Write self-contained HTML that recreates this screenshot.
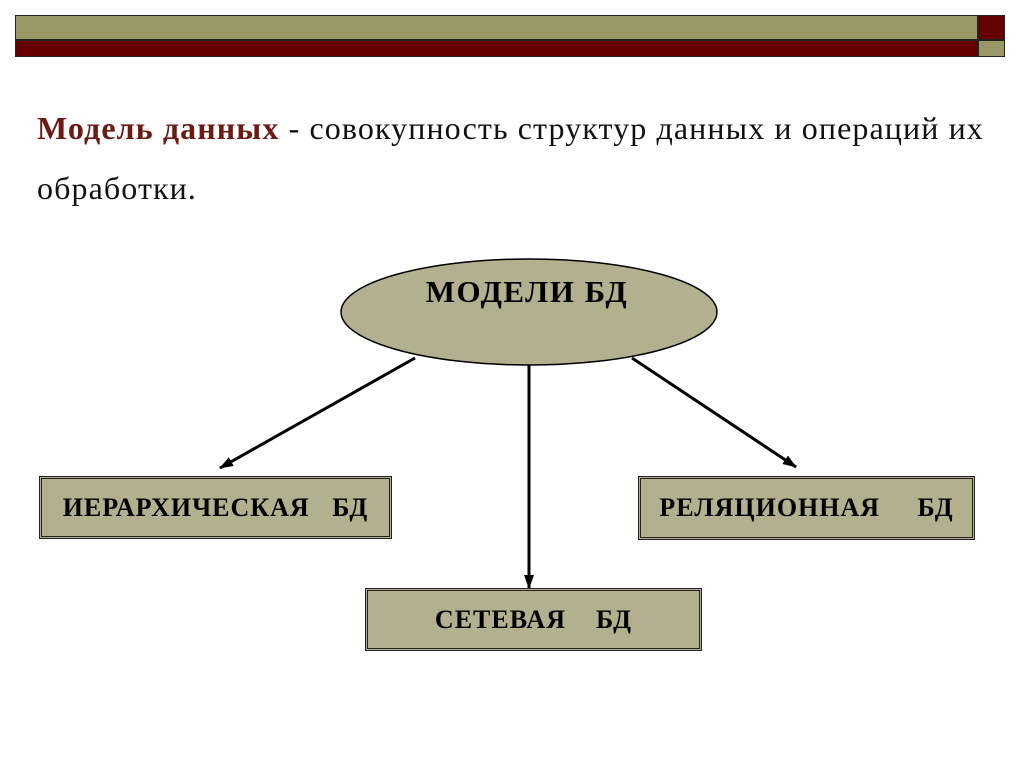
<html><head><style>
body{margin:0;width:1024px;height:767px;background:#fff;position:relative;overflow:hidden;font-family:"Liberation Serif",serif}
.a{position:absolute}
.box{position:absolute;background:#b2b08e;border:3px double #222;box-sizing:border-box;font-weight:bold;font-size:26px;letter-spacing:1px;display:flex;align-items:center;justify-content:center;white-space:pre}
</style></head><body>
<div class="a" style="left:15px;top:15px;width:963px;height:25px;background:#9a9866;border:1px solid #222;box-sizing:border-box"></div>
<div class="a" style="left:15px;top:40px;width:963px;height:17px;background:#660000;border:1px solid #222;box-sizing:border-box"></div>
<div class="a" style="left:978px;top:15px;width:27px;height:25px;background:#660000;border:1px solid #222;box-sizing:border-box"></div>
<div class="a" style="left:978px;top:40px;width:27px;height:17px;background:#9a9866;border:1px solid #222;box-sizing:border-box"></div>
<div class="a" style="left:37px;top:98px;font-size:32px;letter-spacing:1.1px;color:#111;line-height:60px;width:980px;white-space:nowrap"><b style="color:#6b1a14">Модель данных</b> - совокупность структур данных и операций их<br>обработки.</div>
<svg class="a" style="left:0;top:0" width="1024" height="767">
<defs><marker id="m" markerWidth="14" markerHeight="10" refX="13" refY="5" orient="auto" markerUnits="userSpaceOnUse"><path d="M0,0L14,5L0,10z" fill="#000"/></marker></defs>
<ellipse cx="529" cy="312" rx="188" ry="53" fill="#b2b08e" stroke="#000" stroke-width="1.5"/>
<text x="527" y="302" text-anchor="middle" font-family="Liberation Serif" font-weight="bold" font-size="31" letter-spacing="1.5">МОДЕЛИ БД</text>
<line x1="415" y1="358" x2="220" y2="468" stroke="#000" stroke-width="3" marker-end="url(#m)"/>
<line x1="529" y1="365" x2="529" y2="588" stroke="#000" stroke-width="3" marker-end="url(#m)"/>
<line x1="632" y1="358" x2="796" y2="467" stroke="#000" stroke-width="3" marker-end="url(#m)"/>
</svg>
<div class="box" style="left:39px;top:476px;width:353px;height:63px">ИЕРАРХИЧЕСКАЯ   БД</div>
<div class="box" style="left:638px;top:476px;width:337px;height:64px">РЕЛЯЦИОННАЯ     БД</div>
<div class="box" style="left:365px;top:588px;width:337px;height:63px">СЕТЕВАЯ    БД</div>
</body></html>
